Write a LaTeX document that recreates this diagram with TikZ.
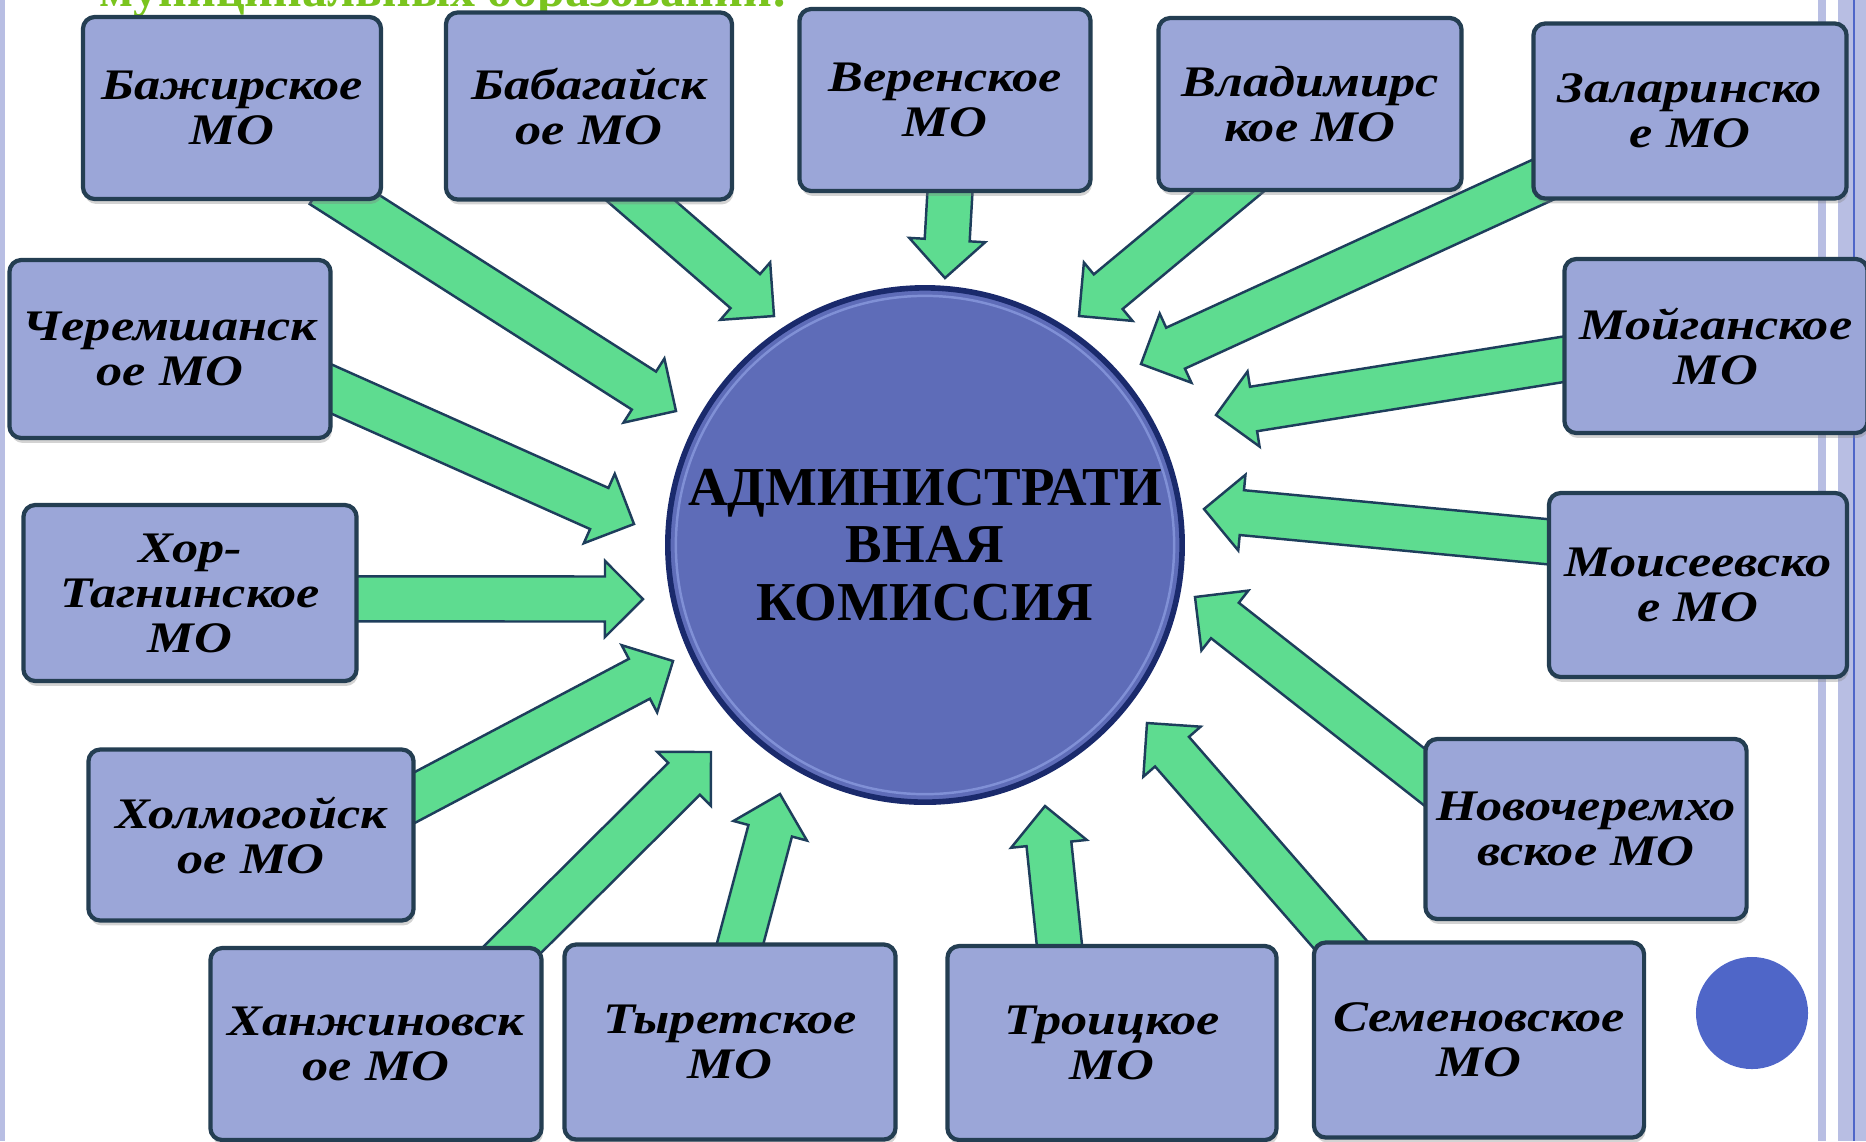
\documentclass[tikz,border=0pt]{standalone}
\usepackage{fontspec}
\setmainfont{Liberation Serif}
\newfontfamily\MYboxfont[FakeStretch=1.2]{Liberation Serif}
\usetikzlibrary{calc,backgrounds,shadows}

\definecolor{MYbox}{RGB}{155,166,216}
\definecolor{MYboxline}{RGB}{36,62,82}
\definecolor{MYgreen}{RGB}{94,220,144}
\definecolor{MYgreenline}{RGB}{30,62,92}
\definecolor{MYcircle}{RGB}{94,108,184}
\definecolor{MYcircleline}{RGB}{26,42,108}
\definecolor{MYring}{RGB}{128,144,214}
\definecolor{MYdot}{RGB}{79,102,200}
\definecolor{MYband}{RGB}{184,190,227}
\definecolor{MYtitle}{RGB}{122,196,30}

\newcommand\MYshaft{0.225cm}
\newcommand\MYhead{0.38cm}
\newcommand\MYtip{0.38cm}

% block arrow: #1 tail (box anchor), #2 tip
\newcommand\MYarrow[2]{%
  \coordinate (ta) at ($(#1)!-0.3cm!(#2)$);
  \coordinate (hb) at ($(#2)!\MYtip!(#1)$);
  \draw[blockarrow] ($(ta)!\MYshaft!90:(#2)$) -- ($(hb)!\MYshaft!90:(#2)$)
    -- ($(hb)!\MYhead!90:(#2)$) -- (#2) -- ($(hb)!\MYhead!-90:(#2)$)
    -- ($(hb)!\MYshaft!-90:(#2)$) -- ($(ta)!\MYshaft!-90:(#2)$) -- cycle;
}

\tikzset{
  mobox/.style={draw=MYboxline, line width=1.2pt, fill=MYbox, rounded corners=0.12cm,
    inner sep=0pt, align=center,
    font=\MYboxfont\bfseries\itshape\fontsize{12.4}{12.8}\selectfont,
    drop shadow={shadow xshift=0.4pt, shadow yshift=-1.4pt, opacity=0.35}},
  blockarrow/.style={draw=MYgreenline, line width=0.7pt, fill=MYgreen, line join=miter},
}

\begin{document}
\begin{tikzpicture}[x=0.01cm, y=-0.01cm]
\useasboundingbox (0,0) rectangle (1866,1141);

% frame
\fill[MYband] (0,0) rectangle (5,1141);
\fill[MYband] (1818,0) rectangle (1826,1141);
\fill[MYband] (1838,0) rectangle (1866,1141);
\fill[MYdot] (1853,0) rectangle (1855,1141);

\node[anchor=base west, inner sep=0pt, text=MYtitle,
  font=\bfseries\fontsize{14.2}{14.2}\selectfont] (title) at (99,6) {муниципальных образований:};

% centre
\node[circle, minimum size=5.14cm, inner sep=0pt, fill=MYcircle, draw=MYcircleline,
  line width=1.6pt, align=center, font=\bfseries\fontsize{15.6}{16.4}\selectfont] (adm) at (925,545)
  {АДМИНИСТРАТИ\\ВНАЯ\\КОМИССИЯ};
\draw[MYring, line width=0.7pt] (adm.center) circle[radius=2.49cm];

\fill[MYdot] (1752,1013) circle[radius=0.56cm];

% boxes
\node[mobox, minimum width=2.98cm, minimum height=1.82cm] (b1) at (232,108) {Бажирское\\МО};
\node[mobox, minimum width=2.86cm, minimum height=1.87cm] (b2) at (589,106) {Бабагайск\\ое МО};
\node[mobox, minimum width=2.91cm, minimum height=1.82cm] (b3) at (945,100) {Веренское\\МО};
\node[mobox, minimum width=3.03cm, minimum height=1.72cm] (b4) at (1310,104) {Владимирс\\кое МО};
\node[mobox, minimum width=3.13cm, minimum height=1.75cm] (b5) at (1690,111) {Заларинско\\е МО};
\node[mobox, minimum width=3.03cm, minimum height=1.74cm] (b6) at (1716,346) {Мойганское\\МО};
\node[mobox, minimum width=2.98cm, minimum height=1.84cm] (b7) at (1698,585) {Моисеевско\\е МО};
\node[mobox, minimum width=3.21cm, minimum height=1.80cm] (b8) at (1586,829) {Новочеремхо\\вское МО};
\node[mobox, minimum width=3.30cm, minimum height=1.95cm] (b9) at (1479,1040) {Семеновское\\МО};
\node[mobox, minimum width=3.29cm, minimum height=1.94cm] (b10) at (1112,1043) {Троицкое\\МО};
\node[mobox, minimum width=3.31cm, minimum height=1.95cm] (b11) at (730,1042) {Тыретское\\МО};
\node[mobox, minimum width=3.31cm, minimum height=1.92cm] (b12) at (376,1044) {Ханжиновск\\ое МО};
\node[mobox, minimum width=3.25cm, minimum height=1.71cm] (b13) at (251,835) {Холмогойск\\ое МО};
\node[mobox, minimum width=3.33cm, minimum height=1.76cm] (b14) at (190,593) {Хор-\\Тагнинское\\МО};
\node[mobox, minimum width=3.21cm, minimum height=1.78cm] (b15) at (170,349) {Черемшанск\\ое МО};

% arrow tips
\coordinate (t1) at (676,411);
\coordinate (t2) at (774,316);
\coordinate (t3) at (945,278);
\coordinate (t4) at (1079,316);
\coordinate (t5) at (1141,364);
\coordinate (t6) at (1216,415);
\coordinate (t7) at (1204,509);
\coordinate (t8) at (1195,597);
\coordinate (t9) at (1147,723);
\coordinate (t10) at (1045,806);
\coordinate (t11) at (780,794);
\coordinate (t12) at (711,752);
\coordinate (t13) at (673,661);
\coordinate (t14) at (643,599);
\coordinate (t15) at (634,524);

\begin{scope}[on background layer]
\MYarrow{b1.-39}{t1}
\MYarrow{b2.-61}{t2}
\MYarrow{b3.-87}{t3}
\MYarrow{b4.-133}{t4}
\MYarrow{b5.-155}{t5}
\MYarrow{b6.-175}{t6}
\MYarrow{b7.164}{t7}
\MYarrow{b8.162}{t8}
\MYarrow{b9.145}{t9}
\MYarrow{b10.118}{t10}
\MYarrow{b11.84}{t11}
\MYarrow{b12.35}{t12}
\MYarrow{b13.13}{t13}
\MYarrow{b14.-2}{t14}
\MYarrow{b15.-14}{t15}
\end{scope}

\end{tikzpicture}
\end{document}
